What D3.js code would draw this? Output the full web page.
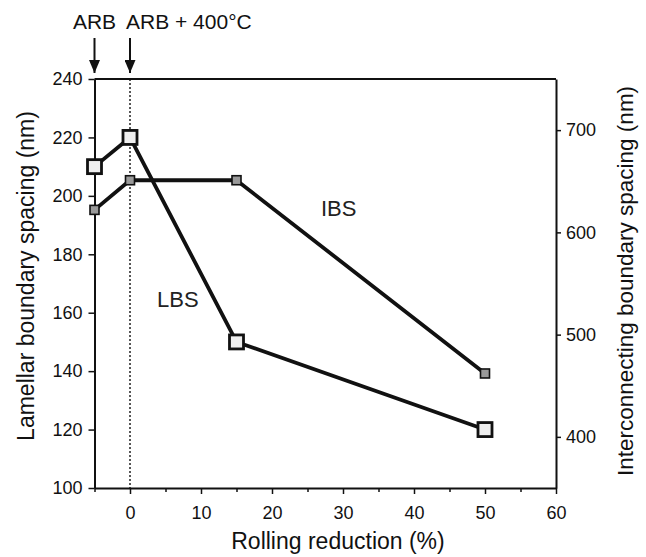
<!DOCTYPE html>
<html>
<head>
<meta charset="utf-8">
<script src="https://cdn.jsdelivr.net/npm/d3@7"></script>
<style>
  body { margin: 0; background: #fff; }
  svg text { font-family: "Liberation Sans", Arial, sans-serif; }
  .axis text { font-size: 18px; fill: #111; }
  .axis path, .axis line { stroke: #111; }
</style>
</head>
<body>
<div id="chart"></div>
<script>
// data
var rolling = [-5, 0, 15, 50];          // rolling reduction (%), -5 = "ARB"
var lbs = [210, 220, 150, 120];         // lamellar boundary spacing (nm), left axis
var ibs = [622, 651, 651, 462];         // interconnecting boundary spacing (nm), right axis

var xTicks = [0, 10, 20, 30, 40, 50, 60];
var xMinor = [-5, 5, 15, 25, 35, 45, 55];
var yLeftTicks = [100, 120, 140, 160, 180, 200, 220, 240];
var yRightTicks = [400, 500, 600, 700];

var notes = [{x: -5, label: "ARB", anchor: "middle", dx: 0},
             {x: 0, label: "ARB + 400°C", anchor: "start", dx: -4}];

var width = 646, height = 557;
var plotLeft = 94.5, plotRight = 556, plotTop = 79, plotBottom = 488;

var x = d3.scaleLinear().domain([-5, 60]).range([plotLeft, plotRight]);
var yL = d3.scaleLinear().domain([100, 240]).range([plotBottom, plotTop]);
var yR = d3.scaleLinear().domain([350, 750]).range([plotBottom, plotTop]);

var svg = d3.select("#chart")
            .append("svg")
            .attr("width", width)
            .attr("height", height);

// frame top line
svg.append("line")
   .attr("x1", plotLeft).attr("x2", plotRight)
   .attr("y1", plotTop).attr("y2", plotTop)
   .attr("stroke", "#111").attr("stroke-width", 2);

// minor x ticks
svg.append("g")
   .attr("class", "axis")
   .attr("transform", "translate(0," + plotBottom + ")")
   .call(d3.axisBottom(x).tickValues(xMinor).tickSize(4).tickFormat(""))
   .call(function(g){ g.select(".domain").remove(); })
   .selectAll("line").attr("stroke-width", 1.5);

var xAxis = svg.append("g")
   .attr("class", "axis")
   .attr("transform", "translate(0," + plotBottom + ")")
   .call(d3.axisBottom(x).tickValues(xTicks).tickSize(6).tickSizeOuter(0).tickPadding(12));
xAxis.select(".domain").attr("stroke-width", 2);
xAxis.selectAll(".tick line").attr("stroke-width", 1.5);

var yAxisL = svg.append("g")
   .attr("class", "axis")
   .attr("transform", "translate(" + plotLeft + ",0)")
   .call(d3.axisLeft(yL).tickValues(yLeftTicks).tickSize(6).tickSizeOuter(0).tickPadding(6));
yAxisL.select(".domain").attr("stroke-width", 2);
yAxisL.selectAll(".tick line").attr("stroke-width", 1.5);

var yAxisR = svg.append("g")
   .attr("class", "axis")
   .attr("transform", "translate(" + plotRight + ",0)")
   .call(d3.axisRight(yR).tickValues(yRightTicks).tickSize(5).tickSizeOuter(0).tickPadding(5));
yAxisR.select(".domain").attr("stroke-width", 2);
yAxisR.selectAll(".tick line").attr("stroke-width", 1.5);

// dotted line at 0 %
svg.append("line")
   .attr("x1", x(0)).attr("x2", x(0))
   .attr("y1", plotTop).attr("y2", plotBottom)
   .attr("stroke", "#111").attr("stroke-width", 1.4)
   .attr("stroke-dasharray", "2,2");

// axis titles
svg.append("text")
   .attr("x", 338).attr("y", 549)
   .attr("text-anchor", "middle")
   .style("font-size", "23px").attr("fill", "#111")
   .text("Rolling reduction (%)");

svg.append("text")
   .attr("transform", "translate(34,276) rotate(-90)")
   .attr("text-anchor", "middle")
   .style("font-size", "23px").attr("fill", "#111")
   .text("Lamellar boundary spacing (nm)");

svg.append("text")
   .attr("transform", "translate(633,281) rotate(-90)")
   .attr("text-anchor", "middle")
   .style("font-size", "22.5px").attr("fill", "#111")
   .text("Interconnecting boundary spacing (nm)");

// lines
var idx = d3.range(rolling.length);

var lineL = d3.line().x(function(i){ return x(rolling[i]); }).y(function(i){ return yL(lbs[i]); });
var lineR = d3.line().x(function(i){ return x(rolling[i]); }).y(function(i){ return yR(ibs[i]); });

svg.append("path").attr("d", lineR(idx))
   .attr("fill", "none").attr("stroke", "#111").attr("stroke-width", 3.8)
   .attr("stroke-linejoin", "round");
svg.append("path").attr("d", lineL(idx))
   .attr("fill", "none").attr("stroke", "#111").attr("stroke-width", 3.8)
   .attr("stroke-linejoin", "round");

// IBS markers (small grey squares)
svg.selectAll(".ibs")
   .data(idx)
   .enter()
     .append("rect")
     .attr("class", "ibs")
     .attr("x", function(i){ return x(rolling[i]) - 4.5; })
     .attr("y", function(i){ return yR(ibs[i]) - 4.5; })
     .attr("width", 9).attr("height", 9)
     .attr("fill", "#9a9a9a").attr("stroke", "#111").attr("stroke-width", 1.6);

// LBS markers (large open squares)
svg.selectAll(".lbs")
   .data(idx)
   .enter()
     .append("rect")
     .attr("class", "lbs")
     .attr("x", function(i){ return x(rolling[i]) - 7; })
     .attr("y", function(i){ return yL(lbs[i]) - 7; })
     .attr("width", 14).attr("height", 14)
     .attr("fill", "#eee").attr("stroke", "#111").attr("stroke-width", 2.8);

// series labels
svg.append("text").attr("x", 157).attr("y", 307)
   .style("font-size", "22px").attr("fill", "#222").text("LBS");
svg.append("text").attr("x", 321).attr("y", 216)
   .style("font-size", "22px").attr("fill", "#222").text("IBS");

// arrows with labels at the top
svg.append("defs").append("marker")
   .attr("id", "head")
   .attr("viewBox", "0 0 13 11")
   .attr("refX", 13).attr("refY", 5.5)
   .attr("markerWidth", 13).attr("markerHeight", 11)
   .attr("markerUnits", "userSpaceOnUse")
   .attr("orient", "auto")
   .append("path").attr("d", "M0,0 L13,5.5 L0,11 Z").attr("fill", "#111");

notes.forEach(function(n){
  svg.append("line")
     .attr("x1", x(n.x)).attr("x2", x(n.x))
     .attr("y1", 38).attr("y2", 73)
     .attr("stroke", "#111").attr("stroke-width", 2)
     .attr("marker-end", "url(#head)");
  svg.append("text")
     .attr("x", x(n.x) + n.dx).attr("y", 29)
     .attr("text-anchor", n.anchor)
     .style("font-size", "21px").attr("fill", "#111")
     .text(n.label);
});
</script>
</body>
</html>
